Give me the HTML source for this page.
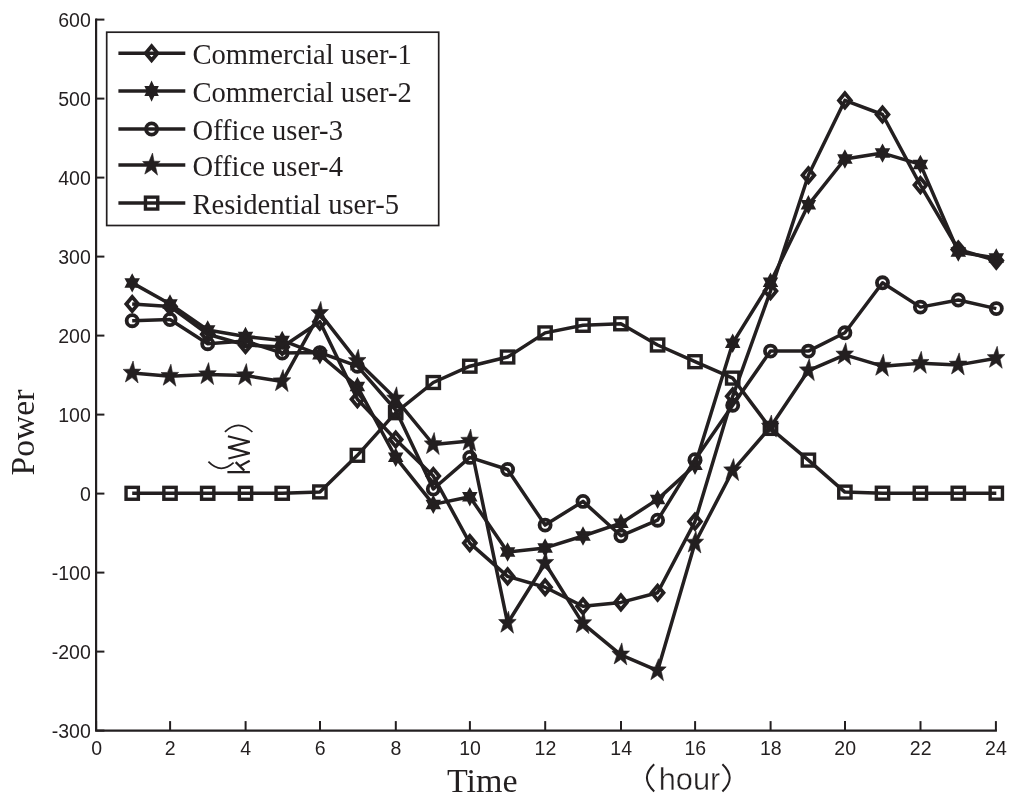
<!DOCTYPE html>
<html><head><meta charset="utf-8"><title>chart</title>
<style>
html,body{margin:0;padding:0;background:#fff;}
body{width:1024px;height:808px;position:relative;overflow:hidden;}
.tk{font-family:"Liberation Sans",sans-serif;font-size:19.5px;fill:#231f20;}
.lg{font-family:"Liberation Serif",serif;font-size:28.6px;fill:#231f20;}
.ax{font-family:"Liberation Serif",serif;font-size:34px;fill:#231f20;}
.hr{font-family:"Liberation Sans",sans-serif;font-size:30.8px;fill:#231f20;}
</style></head><body>
<svg width="1024" height="808" viewBox="0 0 1024 808" style="position:absolute;left:0;top:0;will-change:transform">
<path d="M96.1 18.6V730.7H996.9" fill="none" stroke="#231f20" stroke-width="2.2"/>
<path d="M96.1 730.6h8.3" stroke="#231f20" stroke-width="2.0"/>
<path d="M96.1 651.6h8.3" stroke="#231f20" stroke-width="2.0"/>
<path d="M96.1 572.6h8.3" stroke="#231f20" stroke-width="2.0"/>
<path d="M96.1 493.6h8.3" stroke="#231f20" stroke-width="2.0"/>
<path d="M96.1 414.6h8.3" stroke="#231f20" stroke-width="2.0"/>
<path d="M96.1 335.6h8.3" stroke="#231f20" stroke-width="2.0"/>
<path d="M96.1 256.6h8.3" stroke="#231f20" stroke-width="2.0"/>
<path d="M96.1 177.6h8.3" stroke="#231f20" stroke-width="2.0"/>
<path d="M96.1 98.6h8.3" stroke="#231f20" stroke-width="2.0"/>
<path d="M96.1 19.6h8.3" stroke="#231f20" stroke-width="2.0"/>
<path d="M96.1 730.7v-9.6" stroke="#231f20" stroke-width="2.0"/>
<path d="M170.1 730.7v-9.6" stroke="#231f20" stroke-width="2.0"/>
<path d="M245.6 730.7v-9.6" stroke="#231f20" stroke-width="2.0"/>
<path d="M320.0 730.7v-9.6" stroke="#231f20" stroke-width="2.0"/>
<path d="M395.8 730.7v-9.6" stroke="#231f20" stroke-width="2.0"/>
<path d="M469.9 730.7v-9.6" stroke="#231f20" stroke-width="2.0"/>
<path d="M545.2 730.7v-9.6" stroke="#231f20" stroke-width="2.0"/>
<path d="M621.0 730.7v-9.6" stroke="#231f20" stroke-width="2.0"/>
<path d="M695.1 730.7v-9.6" stroke="#231f20" stroke-width="2.0"/>
<path d="M770.6 730.7v-9.6" stroke="#231f20" stroke-width="2.0"/>
<path d="M845.0 730.7v-9.6" stroke="#231f20" stroke-width="2.0"/>
<path d="M920.5 730.7v-9.6" stroke="#231f20" stroke-width="2.0"/>
<path d="M995.9 730.7v-9.6" stroke="#231f20" stroke-width="2.0"/>
<text x="90.8" y="738.4" text-anchor="end" class="tk">-300</text>
<text x="90.8" y="659.4" text-anchor="end" class="tk">-200</text>
<text x="90.8" y="580.4" text-anchor="end" class="tk">-100</text>
<text x="90.8" y="501.4" text-anchor="end" class="tk">0</text>
<text x="90.8" y="422.4" text-anchor="end" class="tk">100</text>
<text x="90.8" y="343.4" text-anchor="end" class="tk">200</text>
<text x="90.8" y="264.4" text-anchor="end" class="tk">300</text>
<text x="90.8" y="185.4" text-anchor="end" class="tk">400</text>
<text x="90.8" y="106.4" text-anchor="end" class="tk">500</text>
<text x="90.8" y="27.4" text-anchor="end" class="tk">600</text>
<text x="96.6" y="754.9" text-anchor="middle" class="tk">0</text>
<text x="170.3" y="754.9" text-anchor="middle" class="tk">2</text>
<text x="245.8" y="754.9" text-anchor="middle" class="tk">4</text>
<text x="320.2" y="754.9" text-anchor="middle" class="tk">6</text>
<text x="396.0" y="754.9" text-anchor="middle" class="tk">8</text>
<text x="470.1" y="754.9" text-anchor="middle" class="tk">10</text>
<text x="545.4" y="754.9" text-anchor="middle" class="tk">12</text>
<text x="621.2" y="754.9" text-anchor="middle" class="tk">14</text>
<text x="695.3" y="754.9" text-anchor="middle" class="tk">16</text>
<text x="770.8" y="754.9" text-anchor="middle" class="tk">18</text>
<text x="845.2" y="754.9" text-anchor="middle" class="tk">20</text>
<text x="920.7" y="754.9" text-anchor="middle" class="tk">22</text>
<text x="995.9" y="754.9" text-anchor="middle" class="tk">24</text>
<polyline points="132.2,493.3 170.0,493.3 207.7,493.3 245.5,493.3 282.2,493.3 319.9,491.9 357.4,455.3 395.7,412.7 433.3,382.5 469.8,366.2 507.6,357.0 545.1,332.9 583.0,325.3 620.9,323.8 657.6,345.0 695.0,361.7 732.7,378.1 770.5,428.4 808.4,460.1 844.9,492.1 882.5,493.2 920.4,493.2 958.3,493.2 996.3,493.2" fill="none" stroke="#231f20" stroke-width="3.5" stroke-linejoin="round"/>
<rect x="126.05" y="487.35" width="12.3" height="11.9" fill="none" stroke="#231f20" stroke-width="3.4"/>
<rect x="163.85" y="487.35" width="12.3" height="11.9" fill="none" stroke="#231f20" stroke-width="3.4"/>
<rect x="201.55" y="487.35" width="12.3" height="11.9" fill="none" stroke="#231f20" stroke-width="3.4"/>
<rect x="239.35" y="487.35" width="12.3" height="11.9" fill="none" stroke="#231f20" stroke-width="3.4"/>
<rect x="276.05" y="487.35" width="12.3" height="11.9" fill="none" stroke="#231f20" stroke-width="3.4"/>
<rect x="313.75" y="485.95" width="12.3" height="11.9" fill="none" stroke="#231f20" stroke-width="3.4"/>
<rect x="351.25" y="449.35" width="12.3" height="11.9" fill="none" stroke="#231f20" stroke-width="3.4"/>
<rect x="389.55" y="406.75" width="12.3" height="11.9" fill="none" stroke="#231f20" stroke-width="3.4"/>
<rect x="427.15" y="376.55" width="12.3" height="11.9" fill="none" stroke="#231f20" stroke-width="3.4"/>
<rect x="463.65" y="360.25" width="12.3" height="11.9" fill="none" stroke="#231f20" stroke-width="3.4"/>
<rect x="501.45" y="351.05" width="12.3" height="11.9" fill="none" stroke="#231f20" stroke-width="3.4"/>
<rect x="538.95" y="326.95" width="12.3" height="11.9" fill="none" stroke="#231f20" stroke-width="3.4"/>
<rect x="576.85" y="319.35" width="12.3" height="11.9" fill="none" stroke="#231f20" stroke-width="3.4"/>
<rect x="614.75" y="317.85" width="12.3" height="11.9" fill="none" stroke="#231f20" stroke-width="3.4"/>
<rect x="651.45" y="339.05" width="12.3" height="11.9" fill="none" stroke="#231f20" stroke-width="3.4"/>
<rect x="688.85" y="355.75" width="12.3" height="11.9" fill="none" stroke="#231f20" stroke-width="3.4"/>
<rect x="726.55" y="372.15" width="12.3" height="11.9" fill="none" stroke="#231f20" stroke-width="3.4"/>
<rect x="764.35" y="422.45" width="12.3" height="11.9" fill="none" stroke="#231f20" stroke-width="3.4"/>
<rect x="802.25" y="454.15" width="12.3" height="11.9" fill="none" stroke="#231f20" stroke-width="3.4"/>
<rect x="838.75" y="486.15" width="12.3" height="11.9" fill="none" stroke="#231f20" stroke-width="3.4"/>
<rect x="876.35" y="487.25" width="12.3" height="11.9" fill="none" stroke="#231f20" stroke-width="3.4"/>
<rect x="914.25" y="487.25" width="12.3" height="11.9" fill="none" stroke="#231f20" stroke-width="3.4"/>
<rect x="952.15" y="487.25" width="12.3" height="11.9" fill="none" stroke="#231f20" stroke-width="3.4"/>
<rect x="990.15" y="487.25" width="12.3" height="11.9" fill="none" stroke="#231f20" stroke-width="3.4"/>
<polyline points="132.2,320.7 170.0,319.5 207.7,343.7 245.5,341.0 282.2,353.1 319.9,352.6 357.4,366.2 395.7,410.0 433.3,489.0 469.8,457.4 507.6,469.5 545.1,525.1 583.0,501.4 620.9,535.8 657.6,520.2 695.0,459.7 732.7,405.2 770.5,351.1 808.4,351.1 844.9,332.8 882.5,282.8 920.4,307.1 958.3,300.0 996.3,308.6" fill="none" stroke="#231f20" stroke-width="3.5" stroke-linejoin="round"/>
<circle cx="132.2" cy="320.7" r="5.55" fill="none" stroke="#231f20" stroke-width="3.8"/>
<circle cx="170.0" cy="319.5" r="5.55" fill="none" stroke="#231f20" stroke-width="3.8"/>
<circle cx="207.7" cy="343.7" r="5.55" fill="none" stroke="#231f20" stroke-width="3.8"/>
<circle cx="245.5" cy="341.0" r="5.55" fill="none" stroke="#231f20" stroke-width="3.8"/>
<circle cx="282.2" cy="353.1" r="5.55" fill="none" stroke="#231f20" stroke-width="3.8"/>
<circle cx="319.9" cy="352.6" r="5.55" fill="none" stroke="#231f20" stroke-width="3.8"/>
<circle cx="357.4" cy="366.2" r="5.55" fill="none" stroke="#231f20" stroke-width="3.8"/>
<circle cx="395.7" cy="410.0" r="5.55" fill="none" stroke="#231f20" stroke-width="3.8"/>
<circle cx="433.3" cy="489.0" r="5.55" fill="none" stroke="#231f20" stroke-width="3.8"/>
<circle cx="469.8" cy="457.4" r="5.55" fill="none" stroke="#231f20" stroke-width="3.8"/>
<circle cx="507.6" cy="469.5" r="5.55" fill="none" stroke="#231f20" stroke-width="3.8"/>
<circle cx="545.1" cy="525.1" r="5.55" fill="none" stroke="#231f20" stroke-width="3.8"/>
<circle cx="583.0" cy="501.4" r="5.55" fill="none" stroke="#231f20" stroke-width="3.8"/>
<circle cx="620.9" cy="535.8" r="5.55" fill="none" stroke="#231f20" stroke-width="3.8"/>
<circle cx="657.6" cy="520.2" r="5.55" fill="none" stroke="#231f20" stroke-width="3.8"/>
<circle cx="695.0" cy="459.7" r="5.55" fill="none" stroke="#231f20" stroke-width="3.8"/>
<circle cx="732.7" cy="405.2" r="5.55" fill="none" stroke="#231f20" stroke-width="3.8"/>
<circle cx="770.5" cy="351.1" r="5.55" fill="none" stroke="#231f20" stroke-width="3.8"/>
<circle cx="808.4" cy="351.1" r="5.55" fill="none" stroke="#231f20" stroke-width="3.8"/>
<circle cx="844.9" cy="332.8" r="5.55" fill="none" stroke="#231f20" stroke-width="3.8"/>
<circle cx="882.5" cy="282.8" r="5.55" fill="none" stroke="#231f20" stroke-width="3.8"/>
<circle cx="920.4" cy="307.1" r="5.55" fill="none" stroke="#231f20" stroke-width="3.8"/>
<circle cx="958.3" cy="300.0" r="5.55" fill="none" stroke="#231f20" stroke-width="3.8"/>
<circle cx="996.3" cy="308.6" r="5.55" fill="none" stroke="#231f20" stroke-width="3.8"/>
<polyline points="132.2,304.0 170.0,306.5 207.7,334.2 245.5,345.0 282.2,347.0 319.9,321.7 357.4,399.3 395.7,439.5 433.3,476.1 469.8,543.1 507.6,576.4 545.1,587.2 583.0,606.3 620.9,602.4 657.6,592.8 695.0,521.6 732.7,396.3 770.5,291.1 808.4,175.2 844.9,100.4 882.5,114.5 920.4,185.1 958.3,249.5 996.3,260.6" fill="none" stroke="#231f20" stroke-width="3.5" stroke-linejoin="round"/>
<path d="M132.2 296.9L138.1 304.0L132.2 311.1L126.3 304.0Z" fill="none" stroke="#231f20" stroke-width="3.8" stroke-linejoin="miter"/>
<path d="M170.0 299.4L175.9 306.5L170.0 313.6L164.1 306.5Z" fill="none" stroke="#231f20" stroke-width="3.8" stroke-linejoin="miter"/>
<path d="M207.7 327.1L213.6 334.2L207.7 341.3L201.8 334.2Z" fill="none" stroke="#231f20" stroke-width="3.8" stroke-linejoin="miter"/>
<path d="M245.5 337.9L251.4 345.0L245.5 352.1L239.6 345.0Z" fill="none" stroke="#231f20" stroke-width="3.8" stroke-linejoin="miter"/>
<path d="M282.2 339.9L288.1 347.0L282.2 354.1L276.3 347.0Z" fill="none" stroke="#231f20" stroke-width="3.8" stroke-linejoin="miter"/>
<path d="M319.9 314.6L325.8 321.7L319.9 328.8L314.0 321.7Z" fill="none" stroke="#231f20" stroke-width="3.8" stroke-linejoin="miter"/>
<path d="M357.4 392.2L363.3 399.3L357.4 406.4L351.5 399.3Z" fill="none" stroke="#231f20" stroke-width="3.8" stroke-linejoin="miter"/>
<path d="M395.7 432.4L401.6 439.5L395.7 446.6L389.8 439.5Z" fill="none" stroke="#231f20" stroke-width="3.8" stroke-linejoin="miter"/>
<path d="M433.3 469.0L439.2 476.1L433.3 483.2L427.4 476.1Z" fill="none" stroke="#231f20" stroke-width="3.8" stroke-linejoin="miter"/>
<path d="M469.8 536.0L475.7 543.1L469.8 550.2L463.9 543.1Z" fill="none" stroke="#231f20" stroke-width="3.8" stroke-linejoin="miter"/>
<path d="M507.6 569.3L513.5 576.4L507.6 583.5L501.7 576.4Z" fill="none" stroke="#231f20" stroke-width="3.8" stroke-linejoin="miter"/>
<path d="M545.1 580.1L551.0 587.2L545.1 594.3L539.2 587.2Z" fill="none" stroke="#231f20" stroke-width="3.8" stroke-linejoin="miter"/>
<path d="M583.0 599.2L588.9 606.3L583.0 613.4L577.1 606.3Z" fill="none" stroke="#231f20" stroke-width="3.8" stroke-linejoin="miter"/>
<path d="M620.9 595.3L626.8 602.4L620.9 609.5L615.0 602.4Z" fill="none" stroke="#231f20" stroke-width="3.8" stroke-linejoin="miter"/>
<path d="M657.6 585.7L663.5 592.8L657.6 599.9L651.7 592.8Z" fill="none" stroke="#231f20" stroke-width="3.8" stroke-linejoin="miter"/>
<path d="M695.0 514.5L700.9 521.6L695.0 528.7L689.1 521.6Z" fill="none" stroke="#231f20" stroke-width="3.8" stroke-linejoin="miter"/>
<path d="M732.7 389.2L738.6 396.3L732.7 403.4L726.8 396.3Z" fill="none" stroke="#231f20" stroke-width="3.8" stroke-linejoin="miter"/>
<path d="M770.5 284.0L776.4 291.1L770.5 298.2L764.6 291.1Z" fill="none" stroke="#231f20" stroke-width="3.8" stroke-linejoin="miter"/>
<path d="M808.4 168.1L814.3 175.2L808.4 182.3L802.5 175.2Z" fill="none" stroke="#231f20" stroke-width="3.8" stroke-linejoin="miter"/>
<path d="M844.9 93.3L850.8 100.4L844.9 107.5L839.0 100.4Z" fill="none" stroke="#231f20" stroke-width="3.8" stroke-linejoin="miter"/>
<path d="M882.5 107.4L888.4 114.5L882.5 121.6L876.6 114.5Z" fill="none" stroke="#231f20" stroke-width="3.8" stroke-linejoin="miter"/>
<path d="M920.4 178.0L926.3 185.1L920.4 192.2L914.5 185.1Z" fill="none" stroke="#231f20" stroke-width="3.8" stroke-linejoin="miter"/>
<path d="M958.3 242.4L964.2 249.5L958.3 256.6L952.4 249.5Z" fill="none" stroke="#231f20" stroke-width="3.8" stroke-linejoin="miter"/>
<path d="M996.3 253.5L1002.2 260.6L996.3 267.7L990.4 260.6Z" fill="none" stroke="#231f20" stroke-width="3.8" stroke-linejoin="miter"/>
<polyline points="132.2,282.9 170.0,304.0 207.7,330.0 245.5,336.5 282.2,340.4 319.9,354.8 357.4,386.5 395.7,457.3 433.3,504.4 469.8,496.7 507.6,552.0 545.1,547.9 583.0,536.0 620.9,523.2 657.6,499.4 695.0,465.2 732.7,343.2 770.5,282.2 808.4,204.8 844.9,159.0 882.5,153.1 920.4,164.4 958.3,252.0 996.3,258.0" fill="none" stroke="#231f20" stroke-width="3.5" stroke-linejoin="round"/>
<polygon points="132.20,276.70 133.86,279.80 137.19,279.80 135.53,282.90 137.19,286.00 133.86,286.00 132.20,289.10 130.54,286.00 127.21,286.00 128.87,282.90 127.21,279.80 130.54,279.80" fill="#231f20" stroke="#231f20" stroke-width="3.3" stroke-linejoin="miter"/>
<polygon points="170.00,297.80 171.66,300.90 174.99,300.90 173.33,304.00 174.99,307.10 171.66,307.10 170.00,310.20 168.34,307.10 165.01,307.10 166.67,304.00 165.01,300.90 168.34,300.90" fill="#231f20" stroke="#231f20" stroke-width="3.3" stroke-linejoin="miter"/>
<polygon points="207.70,323.80 209.36,326.90 212.69,326.90 211.03,330.00 212.69,333.10 209.36,333.10 207.70,336.20 206.04,333.10 202.71,333.10 204.37,330.00 202.71,326.90 206.04,326.90" fill="#231f20" stroke="#231f20" stroke-width="3.3" stroke-linejoin="miter"/>
<polygon points="245.50,330.30 247.16,333.40 250.49,333.40 248.83,336.50 250.49,339.60 247.16,339.60 245.50,342.70 243.84,339.60 240.51,339.60 242.17,336.50 240.51,333.40 243.84,333.40" fill="#231f20" stroke="#231f20" stroke-width="3.3" stroke-linejoin="miter"/>
<polygon points="282.20,334.20 283.86,337.30 287.19,337.30 285.53,340.40 287.19,343.50 283.86,343.50 282.20,346.60 280.54,343.50 277.21,343.50 278.87,340.40 277.21,337.30 280.54,337.30" fill="#231f20" stroke="#231f20" stroke-width="3.3" stroke-linejoin="miter"/>
<polygon points="319.90,348.60 321.56,351.70 324.89,351.70 323.23,354.80 324.89,357.90 321.56,357.90 319.90,361.00 318.24,357.90 314.91,357.90 316.57,354.80 314.91,351.70 318.24,351.70" fill="#231f20" stroke="#231f20" stroke-width="3.3" stroke-linejoin="miter"/>
<polygon points="357.40,380.30 359.06,383.40 362.39,383.40 360.73,386.50 362.39,389.60 359.06,389.60 357.40,392.70 355.74,389.60 352.41,389.60 354.07,386.50 352.41,383.40 355.74,383.40" fill="#231f20" stroke="#231f20" stroke-width="3.3" stroke-linejoin="miter"/>
<polygon points="395.70,451.10 397.36,454.20 400.69,454.20 399.03,457.30 400.69,460.40 397.36,460.40 395.70,463.50 394.04,460.40 390.71,460.40 392.37,457.30 390.71,454.20 394.04,454.20" fill="#231f20" stroke="#231f20" stroke-width="3.3" stroke-linejoin="miter"/>
<polygon points="433.30,498.20 434.96,501.30 438.29,501.30 436.63,504.40 438.29,507.50 434.96,507.50 433.30,510.60 431.64,507.50 428.31,507.50 429.97,504.40 428.31,501.30 431.64,501.30" fill="#231f20" stroke="#231f20" stroke-width="3.3" stroke-linejoin="miter"/>
<polygon points="469.80,490.50 471.46,493.60 474.79,493.60 473.13,496.70 474.79,499.80 471.46,499.80 469.80,502.90 468.14,499.80 464.81,499.80 466.47,496.70 464.81,493.60 468.14,493.60" fill="#231f20" stroke="#231f20" stroke-width="3.3" stroke-linejoin="miter"/>
<polygon points="507.60,545.80 509.26,548.90 512.59,548.90 510.93,552.00 512.59,555.10 509.26,555.10 507.60,558.20 505.94,555.10 502.61,555.10 504.27,552.00 502.61,548.90 505.94,548.90" fill="#231f20" stroke="#231f20" stroke-width="3.3" stroke-linejoin="miter"/>
<polygon points="545.10,541.70 546.76,544.80 550.09,544.80 548.43,547.90 550.09,551.00 546.76,551.00 545.10,554.10 543.44,551.00 540.11,551.00 541.77,547.90 540.11,544.80 543.44,544.80" fill="#231f20" stroke="#231f20" stroke-width="3.3" stroke-linejoin="miter"/>
<polygon points="583.00,529.80 584.66,532.90 587.99,532.90 586.33,536.00 587.99,539.10 584.66,539.10 583.00,542.20 581.34,539.10 578.01,539.10 579.67,536.00 578.01,532.90 581.34,532.90" fill="#231f20" stroke="#231f20" stroke-width="3.3" stroke-linejoin="miter"/>
<polygon points="620.90,517.00 622.56,520.10 625.89,520.10 624.23,523.20 625.89,526.30 622.56,526.30 620.90,529.40 619.24,526.30 615.91,526.30 617.57,523.20 615.91,520.10 619.24,520.10" fill="#231f20" stroke="#231f20" stroke-width="3.3" stroke-linejoin="miter"/>
<polygon points="657.60,493.20 659.26,496.30 662.59,496.30 660.93,499.40 662.59,502.50 659.26,502.50 657.60,505.60 655.94,502.50 652.61,502.50 654.27,499.40 652.61,496.30 655.94,496.30" fill="#231f20" stroke="#231f20" stroke-width="3.3" stroke-linejoin="miter"/>
<polygon points="695.00,459.00 696.66,462.10 699.99,462.10 698.33,465.20 699.99,468.30 696.66,468.30 695.00,471.40 693.34,468.30 690.01,468.30 691.67,465.20 690.01,462.10 693.34,462.10" fill="#231f20" stroke="#231f20" stroke-width="3.3" stroke-linejoin="miter"/>
<polygon points="732.70,337.00 734.36,340.10 737.69,340.10 736.03,343.20 737.69,346.30 734.36,346.30 732.70,349.40 731.04,346.30 727.71,346.30 729.37,343.20 727.71,340.10 731.04,340.10" fill="#231f20" stroke="#231f20" stroke-width="3.3" stroke-linejoin="miter"/>
<polygon points="770.50,276.00 772.16,279.10 775.49,279.10 773.83,282.20 775.49,285.30 772.16,285.30 770.50,288.40 768.84,285.30 765.51,285.30 767.17,282.20 765.51,279.10 768.84,279.10" fill="#231f20" stroke="#231f20" stroke-width="3.3" stroke-linejoin="miter"/>
<polygon points="808.40,198.60 810.06,201.70 813.39,201.70 811.73,204.80 813.39,207.90 810.06,207.90 808.40,211.00 806.74,207.90 803.41,207.90 805.07,204.80 803.41,201.70 806.74,201.70" fill="#231f20" stroke="#231f20" stroke-width="3.3" stroke-linejoin="miter"/>
<polygon points="844.90,152.80 846.56,155.90 849.89,155.90 848.23,159.00 849.89,162.10 846.56,162.10 844.90,165.20 843.24,162.10 839.91,162.10 841.57,159.00 839.91,155.90 843.24,155.90" fill="#231f20" stroke="#231f20" stroke-width="3.3" stroke-linejoin="miter"/>
<polygon points="882.50,146.90 884.16,150.00 887.49,150.00 885.83,153.10 887.49,156.20 884.16,156.20 882.50,159.30 880.84,156.20 877.51,156.20 879.17,153.10 877.51,150.00 880.84,150.00" fill="#231f20" stroke="#231f20" stroke-width="3.3" stroke-linejoin="miter"/>
<polygon points="920.40,158.20 922.06,161.30 925.39,161.30 923.73,164.40 925.39,167.50 922.06,167.50 920.40,170.60 918.74,167.50 915.41,167.50 917.07,164.40 915.41,161.30 918.74,161.30" fill="#231f20" stroke="#231f20" stroke-width="3.3" stroke-linejoin="miter"/>
<polygon points="958.30,245.80 959.96,248.90 963.29,248.90 961.63,252.00 963.29,255.10 959.96,255.10 958.30,258.20 956.64,255.10 953.31,255.10 954.97,252.00 953.31,248.90 956.64,248.90" fill="#231f20" stroke="#231f20" stroke-width="3.3" stroke-linejoin="miter"/>
<polygon points="996.30,251.80 997.96,254.90 1001.29,254.90 999.63,258.00 1001.29,261.10 997.96,261.10 996.30,264.20 994.64,261.10 991.31,261.10 992.97,258.00 991.31,254.90 994.64,254.90" fill="#231f20" stroke="#231f20" stroke-width="3.3" stroke-linejoin="miter"/>
<polyline points="132.2,373.0 170.0,376.2 207.7,374.6 245.5,375.6 282.2,381.6 319.9,313.4 357.4,361.3 395.7,398.8 433.3,444.5 469.8,441.0 507.6,623.2 545.1,563.3 583.0,623.6 620.9,654.9 657.6,670.7 695.0,543.0 732.7,470.6 770.5,427.0 808.4,370.6 844.9,354.8 882.5,366.2 920.4,363.3 958.3,364.9 996.3,358.3" fill="none" stroke="#231f20" stroke-width="3.5" stroke-linejoin="round"/>
<polygon points="133.10,361.00 134.60,369.10 140.80,369.20 136.00,373.90 138.10,383.00 132.00,377.60 125.40,382.00 127.90,374.00 123.20,369.40 129.70,369.20" fill="#231f20" stroke="#231f20" stroke-width="0.6" stroke-linejoin="miter"/>
<polygon points="170.90,364.20 172.40,372.30 178.60,372.40 173.80,377.10 175.90,386.20 169.80,380.80 163.20,385.20 165.70,377.20 161.00,372.60 167.50,372.40" fill="#231f20" stroke="#231f20" stroke-width="0.6" stroke-linejoin="miter"/>
<polygon points="208.60,362.60 210.10,370.70 216.30,370.80 211.50,375.50 213.60,384.60 207.50,379.20 200.90,383.60 203.40,375.60 198.70,371.00 205.20,370.80" fill="#231f20" stroke="#231f20" stroke-width="0.6" stroke-linejoin="miter"/>
<polygon points="246.40,363.60 247.90,371.70 254.10,371.80 249.30,376.50 251.40,385.60 245.30,380.20 238.70,384.60 241.20,376.60 236.50,372.00 243.00,371.80" fill="#231f20" stroke="#231f20" stroke-width="0.6" stroke-linejoin="miter"/>
<polygon points="283.10,369.60 284.60,377.70 290.80,377.80 286.00,382.50 288.10,391.60 282.00,386.20 275.40,390.60 277.90,382.60 273.20,378.00 279.70,377.80" fill="#231f20" stroke="#231f20" stroke-width="0.6" stroke-linejoin="miter"/>
<polygon points="320.80,301.40 322.30,309.50 328.50,309.60 323.70,314.30 325.80,323.40 319.70,318.00 313.10,322.40 315.60,314.40 310.90,309.80 317.40,309.60" fill="#231f20" stroke="#231f20" stroke-width="0.6" stroke-linejoin="miter"/>
<polygon points="358.30,349.30 359.80,357.40 366.00,357.50 361.20,362.20 363.30,371.30 357.20,365.90 350.60,370.30 353.10,362.30 348.40,357.70 354.90,357.50" fill="#231f20" stroke="#231f20" stroke-width="0.6" stroke-linejoin="miter"/>
<polygon points="396.60,386.80 398.10,394.90 404.30,395.00 399.50,399.70 401.60,408.80 395.50,403.40 388.90,407.80 391.40,399.80 386.70,395.20 393.20,395.00" fill="#231f20" stroke="#231f20" stroke-width="0.6" stroke-linejoin="miter"/>
<polygon points="434.20,432.50 435.70,440.60 441.90,440.70 437.10,445.40 439.20,454.50 433.10,449.10 426.50,453.50 429.00,445.50 424.30,440.90 430.80,440.70" fill="#231f20" stroke="#231f20" stroke-width="0.6" stroke-linejoin="miter"/>
<polygon points="470.70,429.00 472.20,437.10 478.40,437.20 473.60,441.90 475.70,451.00 469.60,445.60 463.00,450.00 465.50,442.00 460.80,437.40 467.30,437.20" fill="#231f20" stroke="#231f20" stroke-width="0.6" stroke-linejoin="miter"/>
<polygon points="508.50,611.20 510.00,619.30 516.20,619.40 511.40,624.10 513.50,633.20 507.40,627.80 500.80,632.20 503.30,624.20 498.60,619.60 505.10,619.40" fill="#231f20" stroke="#231f20" stroke-width="0.6" stroke-linejoin="miter"/>
<polygon points="546.00,551.30 547.50,559.40 553.70,559.50 548.90,564.20 551.00,573.30 544.90,567.90 538.30,572.30 540.80,564.30 536.10,559.70 542.60,559.50" fill="#231f20" stroke="#231f20" stroke-width="0.6" stroke-linejoin="miter"/>
<polygon points="583.90,611.60 585.40,619.70 591.60,619.80 586.80,624.50 588.90,633.60 582.80,628.20 576.20,632.60 578.70,624.60 574.00,620.00 580.50,619.80" fill="#231f20" stroke="#231f20" stroke-width="0.6" stroke-linejoin="miter"/>
<polygon points="621.80,642.90 623.30,651.00 629.50,651.10 624.70,655.80 626.80,664.90 620.70,659.50 614.10,663.90 616.60,655.90 611.90,651.30 618.40,651.10" fill="#231f20" stroke="#231f20" stroke-width="0.6" stroke-linejoin="miter"/>
<polygon points="658.50,658.70 660.00,666.80 666.20,666.90 661.40,671.60 663.50,680.70 657.40,675.30 650.80,679.70 653.30,671.70 648.60,667.10 655.10,666.90" fill="#231f20" stroke="#231f20" stroke-width="0.6" stroke-linejoin="miter"/>
<polygon points="695.90,531.00 697.40,539.10 703.60,539.20 698.80,543.90 700.90,553.00 694.80,547.60 688.20,552.00 690.70,544.00 686.00,539.40 692.50,539.20" fill="#231f20" stroke="#231f20" stroke-width="0.6" stroke-linejoin="miter"/>
<polygon points="733.60,458.60 735.10,466.70 741.30,466.80 736.50,471.50 738.60,480.60 732.50,475.20 725.90,479.60 728.40,471.60 723.70,467.00 730.20,466.80" fill="#231f20" stroke="#231f20" stroke-width="0.6" stroke-linejoin="miter"/>
<polygon points="771.40,415.00 772.90,423.10 779.10,423.20 774.30,427.90 776.40,437.00 770.30,431.60 763.70,436.00 766.20,428.00 761.50,423.40 768.00,423.20" fill="#231f20" stroke="#231f20" stroke-width="0.6" stroke-linejoin="miter"/>
<polygon points="809.30,358.60 810.80,366.70 817.00,366.80 812.20,371.50 814.30,380.60 808.20,375.20 801.60,379.60 804.10,371.60 799.40,367.00 805.90,366.80" fill="#231f20" stroke="#231f20" stroke-width="0.6" stroke-linejoin="miter"/>
<polygon points="845.80,342.80 847.30,350.90 853.50,351.00 848.70,355.70 850.80,364.80 844.70,359.40 838.10,363.80 840.60,355.80 835.90,351.20 842.40,351.00" fill="#231f20" stroke="#231f20" stroke-width="0.6" stroke-linejoin="miter"/>
<polygon points="883.40,354.20 884.90,362.30 891.10,362.40 886.30,367.10 888.40,376.20 882.30,370.80 875.70,375.20 878.20,367.20 873.50,362.60 880.00,362.40" fill="#231f20" stroke="#231f20" stroke-width="0.6" stroke-linejoin="miter"/>
<polygon points="921.30,351.30 922.80,359.40 929.00,359.50 924.20,364.20 926.30,373.30 920.20,367.90 913.60,372.30 916.10,364.30 911.40,359.70 917.90,359.50" fill="#231f20" stroke="#231f20" stroke-width="0.6" stroke-linejoin="miter"/>
<polygon points="959.20,352.90 960.70,361.00 966.90,361.10 962.10,365.80 964.20,374.90 958.10,369.50 951.50,373.90 954.00,365.90 949.30,361.30 955.80,361.10" fill="#231f20" stroke="#231f20" stroke-width="0.6" stroke-linejoin="miter"/>
<polygon points="997.20,346.30 998.70,354.40 1004.90,354.50 1000.10,359.20 1002.20,368.30 996.10,362.90 989.50,367.30 992.00,359.30 987.30,354.70 993.80,354.50" fill="#231f20" stroke="#231f20" stroke-width="0.6" stroke-linejoin="miter"/>
<rect x="106.7" y="32.2" width="332.0" height="193.3" fill="#fff" stroke="#231f20" stroke-width="1.7"/>
<path d="M118.4 53.2H185.3" stroke="#231f20" stroke-width="3.5"/>
<path d="M151.6 46.1L157.5 53.2L151.6 60.3L145.7 53.2Z" fill="none" stroke="#231f20" stroke-width="3.8" stroke-linejoin="miter"/>
<text x="192.4" y="64.1" class="lg">Commercial user-1</text>
<path d="M118.4 91.1H185.3" stroke="#231f20" stroke-width="3.5"/>
<polygon points="151.60,84.40 153.15,87.75 156.24,87.75 154.69,91.10 156.24,94.45 153.15,94.45 151.60,97.80 150.05,94.45 146.96,94.45 148.51,91.10 146.96,87.75 150.05,87.75" fill="#231f20" stroke="#231f20" stroke-width="3.3" stroke-linejoin="miter"/>
<text x="192.4" y="101.6" class="lg">Commercial user-2</text>
<path d="M118.4 129.0H185.3" stroke="#231f20" stroke-width="3.5"/>
<circle cx="151.6" cy="129.0" r="5.55" fill="none" stroke="#231f20" stroke-width="3.8"/>
<text x="192.4" y="140.0" class="lg">Office user-3</text>
<path d="M118.4 165.1H185.3" stroke="#231f20" stroke-width="3.5"/>
<polygon points="152.50,153.10 154.00,161.20 160.20,161.30 155.40,166.00 157.50,175.10 151.40,169.70 144.80,174.10 147.30,166.10 142.60,161.50 149.10,161.30" fill="#231f20" stroke="#231f20" stroke-width="0.6" stroke-linejoin="miter"/>
<text x="192.4" y="176.3" class="lg">Office user-4</text>
<path d="M118.4 203.1H185.3" stroke="#231f20" stroke-width="3.5"/>
<rect x="145.45" y="197.15" width="12.3" height="11.9" fill="none" stroke="#231f20" stroke-width="3.4"/>
<text x="192.4" y="213.8" class="lg">Residential user-5</text>
<text x="447" y="791.5" class="ax">Time</text>
<text x="658.7" y="789.6" class="hr" stroke="#fff" stroke-width="0.4">hour</text>
<path d="M654.2 764.2Q639.6 777.8 654.2 791.4" fill="none" stroke="#231f20" stroke-width="2"/>
<path d="M722.4 764.2Q737.0 777.8 722.4 791.4" fill="none" stroke="#231f20" stroke-width="2"/>
<text transform="translate(33.8,475.4) rotate(-90)" class="ax" style="font-size:33.6px">Power</text>
<path d="M227.9 436.3L249.7 441.7L228.2 447.4L249.7 453.3L228.4 458.5" fill="none" stroke="#231f20" stroke-width="2.2" stroke-linejoin="bevel"/>
<path d="M227.4 472.2L249.9 472.2M244.3 470.6L235.7 462.1M239.2 466.4L249.7 460.7" fill="none" stroke="#231f20" stroke-width="2.2"/>
<path d="M208.4 461.7Q220.7 474.4 233.6 462.7" fill="none" stroke="#231f20" stroke-width="1.7"/>
<path d="M224.9 431.8Q238.5 418.9 252.4 432.0" fill="none" stroke="#231f20" stroke-width="1.7"/>
</svg>
</body></html>
